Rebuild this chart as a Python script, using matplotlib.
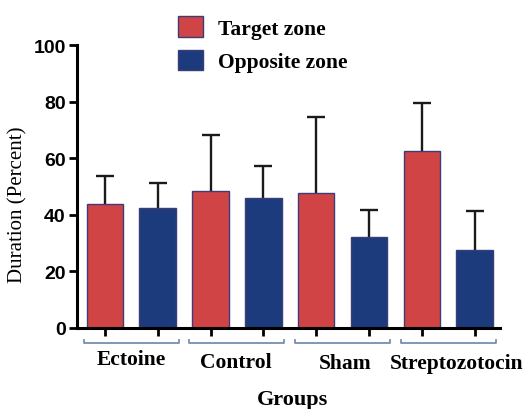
import matplotlib
matplotlib.use("Agg")
import matplotlib.pyplot as plt
import matplotlib.transforms as mtransforms
import numpy as np

# data
groups = ["Ectoine", "Control", "Sham", "Streptozotocin"]
series = ["Target zone", "Opposite zone"]
target_mean = [44.0, 48.6, 47.8, 62.8]
target_err = [9.8, 19.7, 26.8, 17.0]
opposite_mean = [42.4, 45.9, 32.3, 27.5]
opposite_err = [8.9, 11.6, 9.5, 13.8]
yticks = [0, 20, 40, 60, 80, 100]

RED = "#D04446"
BLUE = "#1B3B7D"
EDGE = "#3A3D78"
BRACKET = "#7590B0"

fig = plt.figure(figsize=(5.23, 4.10), dpi=100)
ax = fig.add_axes([0.147, 0.1976, 0.809, 0.689])

n = len(groups)
x_red = np.arange(n) * 2
x_blue = x_red + 1
width = 0.69

ax.bar(x_red, target_mean, width, color=RED, edgecolor=EDGE, linewidth=1.0,
       label=series[0], zorder=2)
ax.bar(x_blue, opposite_mean, width, color=BLUE, edgecolor=EDGE, linewidth=1.0,
       label=series[1], zorder=2)
# symmetric error bars drawn behind the bars, so only the upper half shows
err_kw = dict(fmt="none", ecolor="#1a1a1a", elinewidth=1.7, capsize=6.2,
              capthick=1.7, zorder=1)
ax.errorbar(x_red, target_mean, yerr=target_err, **err_kw)
ax.errorbar(x_blue, opposite_mean, yerr=opposite_err, **err_kw)

ax.set_xlim(-0.53, 2 * n - 0.52)
ax.set_ylim(0, 100)
ax.set_yticks(yticks)
ax.set_xticks(np.concatenate([x_red, x_blue]))
ax.set_xticklabels([])

for s in ["top", "right"]:
    ax.spines[s].set_visible(False)
for s in ["left", "bottom"]:
    ax.spines[s].set_linewidth(2.2)
ax.tick_params(axis="y", width=2.0, length=6, direction="out", pad=2)
ax.tick_params(axis="x", width=2.0, length=6, direction="out")
for lab in ax.get_yticklabels():
    lab.set_fontfamily("Liberation Sans")
    lab.set_fontweight("bold")
    lab.set_fontsize(14)

# group brackets under the axis
trans = mtransforms.blended_transform_factory(ax.transData, ax.transAxes)
label_shift = [0.0, -0.03, 0.05, 0.15]
label_y = [-0.11, -0.12, -0.124, -0.124]
for i, g in enumerate(groups):
    x0 = x_red[i] - 0.4
    x1 = x_blue[i] + 0.4
    ax.plot([x0, x0, x1, x1], [-0.043, -0.053, -0.053, -0.043], transform=trans,
            color=BRACKET, lw=1.3, clip_on=False)
    ax.text((x_red[i] + x_blue[i]) / 2 + label_shift[i], label_y[i], g,
            transform=trans, ha="center", va="center",
            fontfamily="Liberation Serif", fontweight="bold", fontsize=15.5)

ax.text(0.51, -0.252, "Groups", transform=ax.transAxes, ha="center", va="center",
        fontfamily="Liberation Serif", fontweight="bold", fontsize=16)
fig.text(0.035, 0.5, "Duration (Percent)", rotation=90, ha="center", va="center",
         fontfamily="Liberation Serif", fontsize=15)

fig.legend(loc="upper left", bbox_to_anchor=(178 / 523, 1 - 17 / 410),
           frameon=False, borderpad=0, borderaxespad=0, handlelength=1.16,
           handleheight=1.12, handletextpad=0.7, labelspacing=0.5,
           prop=dict(family="Liberation Serif", weight="bold", size=15.5))

fig.savefig("out.png", dpi=100)
